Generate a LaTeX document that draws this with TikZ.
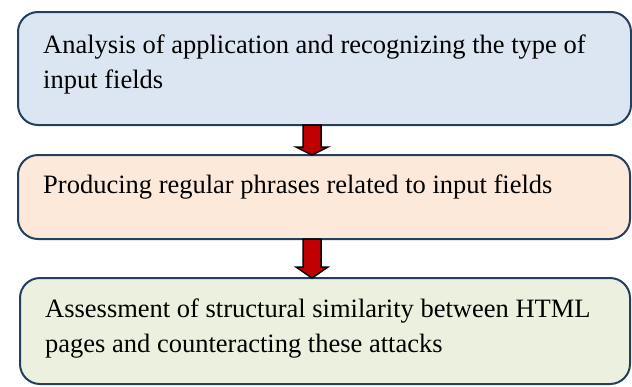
\documentclass[tikz,border=0pt]{standalone}
\usepackage{fontspec}
\setmainfont{Liberation Serif}
\usetikzlibrary{calc}
\definecolor{edgeblue}{HTML}{243F60}
\definecolor{boxblue}{HTML}{DCE6F2}
\definecolor{boxpeach}{HTML}{FDE9D9}
\definecolor{boxgreen}{HTML}{EBF1DE}
\definecolor{arrowred}{HTML}{C00000}
\begin{document}
\begin{tikzpicture}[x=1pt,y=-1pt,
  box/.style={draw=edgeblue, line width=2pt, rounded corners=20pt,
    anchor=north west, inner sep=0pt, outer sep=0pt},
  line/.style={anchor=base west, inner sep=0pt,
    font=\fontsize{26.5}{35}\selectfont},
  blockarrow/.style={fill=arrowred, draw=black, line width=1.5pt, line join=miter}]
\useasboundingbox (0,0) rectangle (632,386);

% the three stage boxes
\node[box, fill=boxblue,  minimum width=613, minimum height=113] (b1) at (18,12) {};
\node[box, fill=boxpeach, minimum width=612, minimum height=84]  (b2) at (18,155) {};
\node[box, fill=boxgreen, minimum width=610, minimum height=106] (b3) at (20,278) {};

% stage texts
\node[line] (t1a) at (43,53)  {Analysis of application and recognizing the type of};
\node[line] (t1b) at (43,88)  {input fields};
\node[line] (t2a) at (43,193) {Producing regular phrases related to input fields};
\node[line] (t3a) at (45,317) {Assessment of structural similarity between HTML};
\node[line] (t3b) at (45,352) {pages and counteracting these attacks};

% block arrows between the stages
\coordinate (ax) at (312,0);
\coordinate (a1s) at (b1.south -| ax);
\coordinate (a1e) at (b2.north -| ax);
\coordinate (a2s) at (b2.south -| ax);
\coordinate (a2e) at (b3.north -| ax);
\draw[blockarrow] ($(a1s)+(-9,0)$) -- ($(a1s)+(9,0)$) -- ($(a1e)+(9,-8)$)
  -- ($(a1e)+(16,-8)$) -- (a1e) -- ($(a1e)+(-16,-8)$) -- ($(a1e)+(-9,-8)$) -- cycle;
\draw[blockarrow] ($(a2s)+(-9,0)$) -- ($(a2s)+(9,0)$) -- ($(a2e)+(9,-11)$)
  -- ($(a2e)+(16,-11)$) -- (a2e) -- ($(a2e)+(-16,-11)$) -- ($(a2e)+(-9,-11)$) -- cycle;
\end{tikzpicture}
\end{document}
